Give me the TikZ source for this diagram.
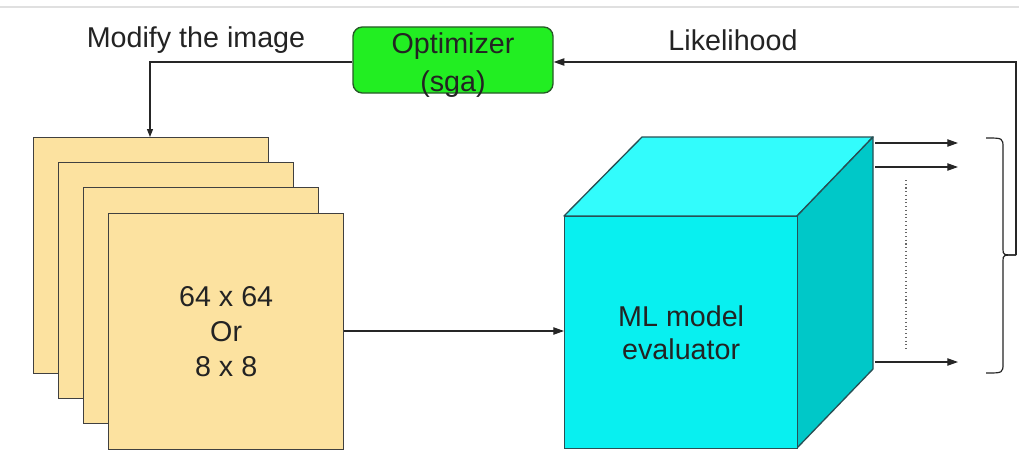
\documentclass[tikz,border=0pt]{standalone}
\usepackage{fontspec}
\setmainfont{Liberation Sans}
\usetikzlibrary{arrows.meta}
\definecolor{cardfill}{RGB}{252,226,160}
\definecolor{optfill}{RGB}{34,238,34}
\definecolor{optdraw}{RGB}{40,90,40}
\definecolor{cubefront}{RGB}{8,240,240}
\definecolor{cubetop}{RGB}{50,252,252}
\definecolor{cuberight}{RGB}{0,200,200}
\definecolor{cubedraw}{RGB}{40,80,85}
\definecolor{txt}{RGB}{35,35,35}
\begin{document}
\begin{tikzpicture}[x=0.75pt,y=-0.75pt,
  lbl/.style={font=\fontsize{21.5}{25}\selectfont, text=txt},
  card/.style={draw=black!75, fill=cardfill, line width=1pt, minimum width=176.25pt, minimum height=177pt, anchor=north west, inner sep=0pt},
  optbox/.style={draw=optdraw, fill=optfill, line width=1pt, rounded corners=7pt, minimum width=150pt, minimum height=49.5pt, inner sep=0pt},
  conn/.style={line width=0.9pt, black!85},
  tip/.style={-{Triangle[length=8pt,width=5.5pt]}},
  smalltip/.style={-{Triangle[length=6pt,width=4.5pt]}}
]
\useasboundingbox (0,0) rectangle (1019,467);
\fill[white] (0,0) rectangle (1019,467);
\draw[black!12, line width=0.8pt] (0,7) -- (1019,7);

% optimizer
\node[optbox] (opt) at (453,60) {};
\node[lbl, align=center, font=\fontsize{21.5}{28.5}\selectfont] (optlabel) at (453,65) {Optimizer\\(sga)};
\node[lbl] (modify) at (196,40) {Modify the image};
\node[lbl] (lik) at (733,40) {Likelihood};

% cards
\node[card] (c1) at (33,137) {};
\node[card] (c2) at (58,162) {};
\node[card] (c3) at (83,187) {};
\node[card, align=center, font=\fontsize{21.5}{26}\selectfont, text=txt] (c4) at (108,213) {64 x 64\\Or\\8 x 8};

% cube
\coordinate (ftl) at (564,216);
\coordinate (ftr) at (797,216);
\coordinate (fbr) at (797,448);
\coordinate (btl) at (642,137);
\coordinate (btr) at (873,137);
\coordinate (bbr) at (873,369);
\filldraw[fill=cubetop, draw=cubedraw, line width=1pt, line join=round] (ftl) -- (btl) -- (btr) -- (ftr) -- cycle;
\filldraw[fill=cuberight, draw=cubedraw, line width=1pt, line join=round] (ftr) -- (btr) -- (bbr) -- (fbr) -- cycle;
\node[draw=cubedraw, fill=cubefront, line width=1pt, minimum width=174.75pt, minimum height=174pt, anchor=north west, inner sep=0pt, align=center, font=\fontsize{21.5}{25}\selectfont, text=txt] (cube) at (ftl) {ML model\\evaluator};

% connectors
\draw[conn, smalltip] (opt.west |- 0,62) -- (150,62) -- (c1.north -| 150,0);
\draw[conn, tip] (c4.east |- 0,331) -- (cube.west |- 0,331);

\coordinate (o1s) at (875,143); \coordinate (o1e) at (958,143);
\coordinate (o2s) at (875,167); \coordinate (o2e) at (958,167);
\coordinate (o3s) at (875,362); \coordinate (o3e) at (958,362);
\draw[conn, tip] (o1s) -- (o1e);
\draw[conn, tip] (o2s) -- (o2e);
\draw[conn, tip] (o3s) -- (o3e);
\draw[black!60, line width=0.8pt, dotted] (906,180) -- (906,350);

% bracket
\coordinate (brtop) at (986,138);
\coordinate (brbot) at (986,373);
\draw[conn, line join=round] (brtop) .. controls (1003,138) .. (1003,148) -- (1003,249) .. controls (1003,255) .. (1016,255);
\draw[conn, line join=round] (brbot) .. controls (1003,373) .. (1003,363) -- (1003,261) .. controls (1003,255) .. (1016,255);
\coordinate (likr) at (1016,255);
\draw[conn, tip] (likr) -- (1016,62) -- (opt.east |- 0,62);
\end{tikzpicture}
\end{document}
